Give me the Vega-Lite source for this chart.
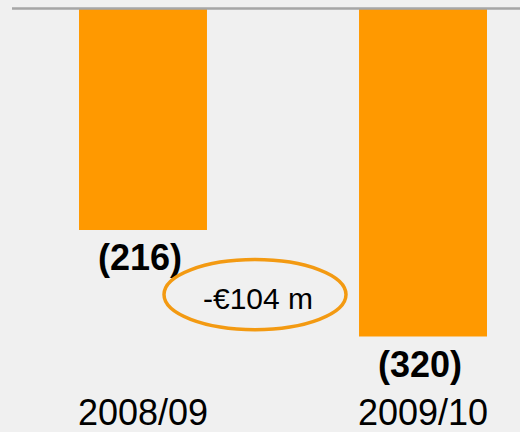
{
  "$schema": "https://vega.github.io/schema/vega-lite/v6.json",
  "width": 508,
  "height": 390,
  "autosize": {"type": "none"},
  "padding": {"left": 12, "top": 9, "right": 0, "bottom": 33},
  "background": "#f0f0f0",
  "config": {"view": {"stroke": null}, "font": "Liberation Sans"},
  "datasets": {
    "bars": [
      {"year": "2008/09", "value": -216, "label": "(216)"},
      {"year": "2009/10", "value": -320, "label": "(320)"}
    ],
    "note": [
      {"year": "2008/09", "value": -279, "label": "-€104 m"}
    ]
  },
  "layer": [
    {
      "data": {"name": "bars"},
      "mark": {"type": "bar", "color": "#FF9900"},
      "encoding": {
        "x": {
          "field": "year", "type": "nominal",
          "scale": {"domain": ["2008/09", "2009/10"], "paddingInner": 0.543, "paddingOuter": 0.1786, "align": 0.67},
          "axis": {"title": null, "domain": false, "ticks": false, "tickSize": 0, "labelPadding": -3, "labelAngle": 0, "labelFontSize": 36, "labelFont": "Liberation Sans", "labelColor": "#000000", "labelBaseline": "top"}
        },
        "y": {"field": "value", "type": "quantitative", "scale": {"domain": [-381, 0], "nice": false, "zero": true}, "axis": null}
      }
    },
    {
      "data": {"name": "bars"},
      "mark": {"type": "text", "fontSize": 36, "fontWeight": "bold", "baseline": "alphabetic", "dy": 40, "dx": -3, "color": "#000000"},
      "encoding": {
        "x": {"field": "year", "type": "nominal"},
        "y": {"field": "value", "type": "quantitative"},
        "text": {"field": "label"}
      }
    },
    {
      "data": {"name": "note"},
      "mark": {"type": "point", "shape": "M-1,0 A1,0.385 0 1,0 1,0 A1,0.385 0 1,0 -1,0 Z", "size": 33124, "filled": false, "stroke": "#F39A12", "strokeWidth": 3.5, "opacity": 1, "xOffset": 112},
      "encoding": {
        "x": {"field": "year", "type": "nominal"},
        "y": {"field": "value", "type": "quantitative"}
      }
    },
    {
      "data": {"name": "note"},
      "mark": {"type": "text", "fontSize": 30, "baseline": "middle", "dx": 115, "dy": 5, "color": "#000000"},
      "encoding": {
        "x": {"field": "year", "type": "nominal"},
        "y": {"field": "value", "type": "quantitative"},
        "text": {"field": "label"}
      }
    },
    {
      "data": {"values": [{}]},
      "mark": {"type": "rule", "color": "#a6a6a6", "strokeWidth": 2.5, "yOffset": -0.5},
      "encoding": {"y": {"datum": 0}}
    }
  ]
}
